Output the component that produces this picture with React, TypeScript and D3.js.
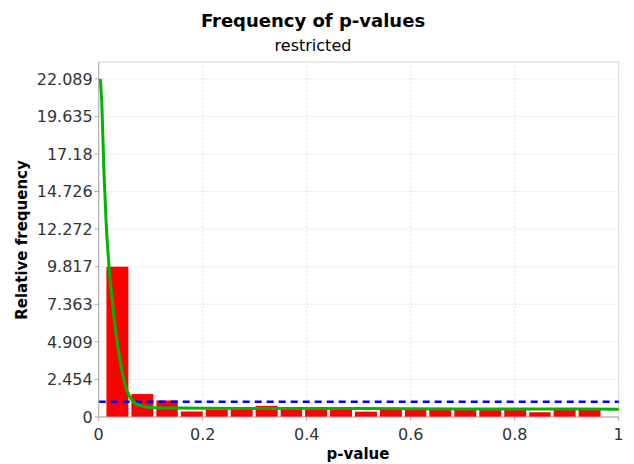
import React from "react";
import * as d3 from "d3";

const binEdges = [0.012, 0.060, 0.108, 0.155, 0.203, 0.251, 0.299, 0.347, 0.394, 0.442, 0.490, 0.538, 0.586, 0.633, 0.681, 0.729, 0.777, 0.825, 0.872, 0.920, 0.968];
const binHeights = [9.817, 1.50, 1.08, 0.36, 0.48, 0.50, 0.72, 0.50, 0.48, 0.50, 0.35, 0.50, 0.50, 0.50, 0.48, 0.45, 0.47, 0.31, 0.48, 0.48];
const fitP = [0.003, 0.006, 0.010, 0.014, 0.020, 0.028, 0.035, 0.041, 0.048, 0.054, 0.062, 0.070, 0.085, 0.100, 0.150, 0.300, 0.500, 0.700, 0.900, 1.000];
const fitD = [22.089, 20.5, 16.1, 12.9, 9.8, 7.0, 5.0, 3.7, 2.5, 1.76, 1.2, 0.9, 0.7, 0.62, 0.58, 0.56, 0.55, 0.53, 0.52, 0.51];
const uniformP = [0, 1];
const uniformD = [1, 1];
const yTicks = [0, 2.454, 4.909, 7.363, 9.817, 12.272, 14.726, 17.18, 19.635, 22.089];
const yTickLabels = ["0", "2.454", "4.909", "7.363", "9.817", "12.272", "14.726", "17.18", "19.635", "22.089"];
const xTicks = [0, 0.2, 0.4, 0.6, 0.8, 1];
const xTickLabels = ["0", "0.2", "0.4", "0.6", "0.8", "1"];

const W = 634, H = 464;
const L = 98.7, R = 618.7, T = 62, B = 417;
const FONT = "'DejaVu Sans', Verdana, sans-serif";

export default function App() {
  const x = d3.scaleLinear().domain([0, 1]).range([L, R]);
  const y = d3.scaleLinear().domain([0, 23.19]).range([B, T]);
  const line = d3.line<number>().x((_, i) => x(fitP[i])).y((d) => y(d)).curve(d3.curveMonotoneX);
  const uline = d3.line<number>().x((_, i) => x(uniformP[i])).y((d) => y(d));
  const gap = 1.5;
  return (
    <div style={{ position: "absolute", left: 0, top: 0 }}>
      <svg width={W} height={H} style={{ display: "block", background: "#fff" }}>
        <text x={313} y={27} textAnchor="middle" fontFamily={FONT} fontWeight="bold" fontSize={18} fill="#000">Frequency of p-values</text>
        <text x={313} y={51} textAnchor="middle" fontFamily={FONT} fontSize={16} fill="#000">restricted</text>
        <rect x={L} y={T} width={R - L} height={B - T} fill="#fff" stroke="#d8d8d8" strokeWidth={1} />
        {yTicks.map((t, i) => (
          <line key={"gy" + i} x1={L} x2={R} y1={y(t)} y2={y(t)} stroke="#e2e2e2" strokeDasharray="2,2" strokeWidth={1} />
        ))}
        {xTicks.map((t, i) => (
          <line key={"gx" + i} x1={x(t)} x2={x(t)} y1={T} y2={B} stroke="#e2e2e2" strokeDasharray="2,2" strokeWidth={1} />
        ))}
        {binHeights.map((h, i) => (
          <rect key={"b" + i} x={x(binEdges[i]) + gap} y={y(h)} width={x(binEdges[i + 1]) - x(binEdges[i]) - 2 * gap} height={B - y(h)} fill="#ff0000" />
        ))}
        <path d={uline(uniformD) || ""} fill="none" stroke="#0000ff" strokeWidth={2.5} strokeDasharray="7,5" />
        <path d={line(fitD) || ""} fill="none" stroke="#00b400" strokeWidth={3} />
        <line x1={L} x2={L} y1={T} y2={B} stroke="#aaa" />
        <line x1={L} x2={R} y1={B} y2={B} stroke="#aaa" />
        {yTicks.map((t, i) => (
          <g key={"yt" + i}>
            <line x1={L - 4} x2={L} y1={y(t)} y2={y(t)} stroke="#aaa" />
            <text x={L - 6} y={y(t)} dy="0.36em" textAnchor="end" fontFamily={FONT} fontSize={16} fill="#333">{yTickLabels[i]}</text>
          </g>
        ))}
        {xTicks.map((t, i) => (
          <g key={"xt" + i}>
            <line x1={x(t)} x2={x(t)} y1={B} y2={B + 4} stroke="#aaa" />
            <text x={x(t)} y={440} textAnchor="middle" fontFamily={FONT} fontSize={16} fill="#333">{xTickLabels[i]}</text>
          </g>
        ))}
        <text x={358} y={459} textAnchor="middle" fontFamily={FONT} fontWeight="bold" fontSize={15} fill="#000">p-value</text>
        <text transform={`translate(27,240) rotate(-90)`} textAnchor="middle" fontFamily={FONT} fontWeight="bold" fontSize={15} fill="#000">Relative frequency</text>
      </svg>
    </div>
  );
}
